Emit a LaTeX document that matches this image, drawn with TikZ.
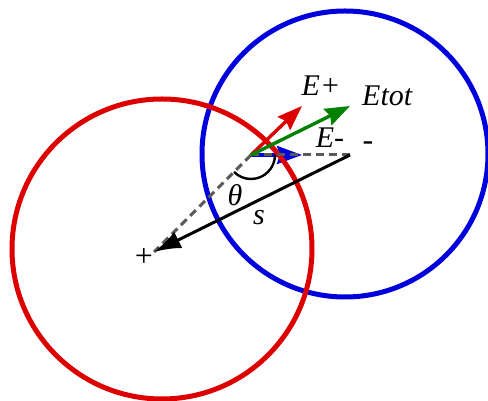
\documentclass[tikz,border=0pt]{standalone}
\usepackage{fontspec}
\setmainfont{Liberation Serif}
\usetikzlibrary{arrows.meta,positioning}

\definecolor{ringred}{RGB}{221,0,0}
\definecolor{ringblue}{RGB}{0,0,221}
\definecolor{fieldgreen}{RGB}{0,130,0}

\begin{document}
\begin{tikzpicture}[
    x=1pt, y=1pt,
    ring/.style={line width=5pt},
    field/.style={-{Stealth[length=25pt,width=18pt,inset=3pt]}, line width=3.4pt},
    guide/.style={black!65, line width=3pt, dash pattern=on 8pt off 5pt},
    lbl/.style={font=\fontsize{30}{34}\selectfont\itshape, inner sep=0pt, anchor=base},
    sign/.style={font=\fontsize{32}{36}\selectfont, inner sep=0pt}
]
\useasboundingbox (0,0) rectangle (488,401);

% Points
\coordinate (P) at (251,246);
\coordinate (qminus) at (350,246);
\coordinate (qplus) at (154,149);
\coordinate (Eplustip) at (302,295);
\coordinate (Etottip) at (350,295);
\coordinate (Eminustip) at (302,246);

% Circles
\draw[ring, ringblue] (345,247) circle (143);
\draw[field, ringblue] (P) -- (Eminustip);
\draw[ring, ringred] (162,152) circle (150);

% Guide lines
\draw[guide] (P) -- (qminus);
\draw[guide] (P) -- (qplus);

% Separation
\draw[line width=3pt, -{Latex[length=27pt,width=18pt]}] (qminus) -- (qplus);

% Fields
\draw[field, ringred] (P) -- (Eplustip);
\draw[field, fieldgreen] (P) -- (Etottip);

% Angle
\draw[line width=2.4pt] (P) ++(24,0) arc[start angle=0, end angle=-135, radius=24];

% Labels
\node[lbl] (Eplus) at (321,305) {E+};
\node[lbl, anchor=base west] (Etot) at (362,295) {Etot};
\node[lbl] (Eminus) at (330,253) {E-};
\node[sign] (minus) at (368,255) {-};
\node[sign] (plus) at (144,144) {+};
\node[lbl, anchor=center] (theta) at (235,206) {θ};
\node[lbl, anchor=center] (sep) at (259,183) {s};

\end{tikzpicture}
\end{document}
